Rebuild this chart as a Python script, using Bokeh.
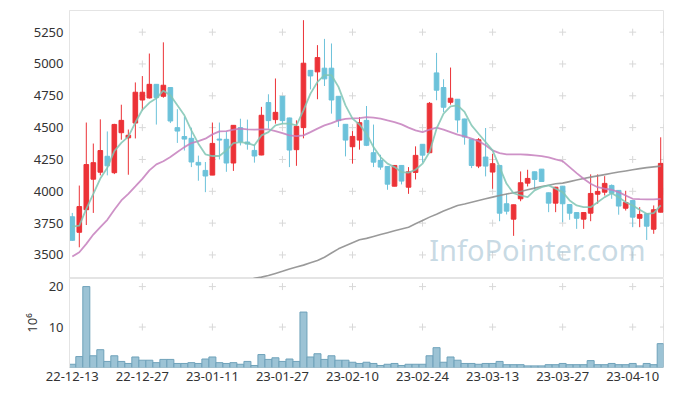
from bokeh.plotting import figure
from bokeh.layouts import column
from bokeh.models import ColumnDataSource, Range1d, FixedTicker, Label
from bokeh.embed import file_html
from bokeh.resources import INLINE

dates = ["22-12-13", "22-12-14", "22-12-15", "22-12-16", "22-12-19", "22-12-20", "22-12-21", "22-12-22",
         "22-12-23", "22-12-26", "22-12-27", "22-12-28", "22-12-29",
         "23-01-02", "23-01-03", "23-01-04", "23-01-05", "23-01-06", "23-01-09", "23-01-10", "23-01-11",
         "23-01-12", "23-01-13", "23-01-16", "23-01-17", "23-01-18", "23-01-19", "23-01-20", "23-01-25",
         "23-01-26", "23-01-27", "23-01-30", "23-01-31",
         "23-02-01", "23-02-02", "23-02-03", "23-02-06", "23-02-07", "23-02-08", "23-02-09", "23-02-10",
         "23-02-13", "23-02-14", "23-02-15", "23-02-16", "23-02-17", "23-02-20", "23-02-21", "23-02-22",
         "23-02-23", "23-02-24", "23-02-27", "23-02-28",
         "23-03-02", "23-03-03", "23-03-06", "23-03-07", "23-03-08", "23-03-09", "23-03-10", "23-03-13",
         "23-03-14", "23-03-15", "23-03-16", "23-03-17", "23-03-20", "23-03-21", "23-03-22", "23-03-23",
         "23-03-24", "23-03-27", "23-03-28", "23-03-29", "23-03-30", "23-03-31",
         "23-04-03", "23-04-04", "23-04-05", "23-04-06", "23-04-07", "23-04-10", "23-04-11", "23-04-12",
         "23-04-13", "23-04-14"]

opens = [3800, 3678, 3855, 4095, 4150, 4275, 4146, 4460, 4420, 4536, 4717, 4733, 4840, 4746,
         4815, 4500, 4430, 4416, 4227, 4164, 4127, 4410, 4408, 4222, 4500, 4387, 4321, 4285,
         4697, 4563, 4746, 4576, 4327, 4500, 4950, 4938, 4967, 4967, 4746, 4526, 4350, 4402,
         4557, 4303, 4243, 4195, 4040, 4203, 4032, 4148, 4369, 4303, 4930, 4815, 4699, 4723,
         4568, 4408, 4198, 4269, 4151, 4203, 3902, 3781, 3941, 4064, 4153, 4174, 3988, 3907,
         4040, 3896, 3833, 3781, 3828, 3977, 3993, 4046, 4007, 3867, 3928, 3788, 3823, 3702, 3836]
closes = [3615, 3880, 4210, 4225, 4320, 4200, 4525, 4557, 4440, 4778, 4778, 4840, 4736, 4833,
          4552, 4473, 4410, 4230, 4206, 4120, 4376, 4402, 4222, 4518, 4390, 4371, 4277, 4597,
          4555, 4620, 4555, 4324, 4510, 5006, 4906, 5050, 4883, 4717, 4555, 4402, 4431, 4539,
          4361, 4229, 4190, 4056, 4203, 4080, 4153, 4282, 4284, 4691, 4794, 4660, 4731, 4560,
          4426, 4203, 4405, 4198, 4217, 3828, 3844, 3894, 4067, 4101, 4093, 4077, 3907, 4032,
          3902, 3828, 3788, 3833, 3983, 3999, 4062, 3985, 3884, 3912, 3797, 3818, 3726, 3855, 4219]
highs = [3830, 4045, 4540, 4375, 4565, 4470, 4530, 4680, 4485, 4855, 4905, 5082, 4841, 5170,
         4818, 4645, 4583, 4500, 4280, 4230, 4540, 4540, 4470, 4520, 4570, 4563, 4366, 4663,
         4762, 4886, 4748, 4578, 4557, 5344, 4951, 5148, 5197, 5161, 4747, 4527, 4473, 4583,
         4670, 4524, 4287, 4196, 4205, 4205, 4190, 4353, 4370, 4701, 5087, 4880, 4972, 4725,
         4570, 4410, 4418, 4497, 4295, 4205, 3980, 3895, 4156, 4169, 4155, 4175, 3990, 4035,
         4042, 3898, 3835, 3835, 4133, 4133, 4119, 4054, 4010, 4004, 3930, 3875, 3825, 3889, 4424]
lows = [3610, 3560, 3735, 3830, 4125, 4125, 4135, 4405, 4130, 4415, 4635, 4728, 4524, 4735,
        4536, 4380, 4320, 4190, 4083, 3993, 4127, 4250, 4153, 4160, 4360, 4327, 4225, 4283,
        4492, 4531, 4531, 4190, 4200, 4416, 4800, 4723, 4827, 4610, 4505, 4274, 4217, 4327,
        4355, 4190, 4169, 4012, 4040, 4054, 3980, 4093, 4229, 4300, 4715, 4623, 4681, 4461,
        4366, 4182, 4182, 4117, 4020, 3765, 3818, 3650, 3922, 4038, 4014, 4075, 3836, 3836,
        3757, 3776, 3705, 3705, 3765, 3902, 3967, 3941, 3816, 3849, 3718, 3718, 3618, 3666, 3834]
volume_m = [0.8, 2.7, 20.0, 2.9, 4.4, 1.5, 2.9, 1.5, 1.0, 2.6,
            1.8, 1.8, 1.2, 2.0, 2.0, 1.0, 1.0, 1.2, 1.0, 2.1,
            2.6, 1.2, 1.0, 1.2, 0.8, 1.5, 0.5, 3.2, 2.0, 2.4,
            1.5, 2.1, 1.5, 13.7, 2.6, 3.4, 2.0, 2.9, 1.8, 1.8,
            1.3, 1.0, 1.3, 1.0, 0.5, 0.8, 1.0, 0.5, 0.8, 0.8,
            0.8, 2.9, 4.9, 1.3, 2.6, 1.8, 1.0, 1.0, 0.8, 1.0,
            1.0, 1.5, 0.7, 0.7, 0.7, 0.4, 0.4, 0.4, 0.7, 0.7,
            1.0, 0.7, 0.7, 0.7, 1.7, 0.7, 0.7, 1.0, 0.7, 0.7,
            1.0, 0.4, 1.0, 0.7, 5.9]
ma5 = [3723, 3731, 3862, 3980, 4100, 4185, 4315, 4380, 4430, 4540, 4640, 4695, 4730, 4790,
       4754, 4675, 4597, 4479, 4374, 4290, 4277, 4277, 4321, 4379, 4387, 4379, 4361, 4439,
       4465, 4518, 4531, 4531, 4518, 4636, 4767, 4859, 4912, 4912, 4820, 4675, 4571, 4525,
       4452, 4347, 4269, 4217, 4190, 4151, 4146, 4169, 4217, 4308, 4492, 4610, 4667, 4675,
       4623, 4518, 4452, 4387, 4321, 4190, 4059, 3985, 3967, 3954, 4007, 4032, 4046, 4020,
       3993, 3928, 3889, 3875, 3875, 3914, 3954, 3985, 3954, 3914, 3889, 3855, 3823, 3828, 3889]
ma20 = [3487, 3521, 3587, 3660, 3718, 3776, 3855, 3928, 3980, 4038, 4098, 4164, 4211, 4236,
        4269, 4308, 4347, 4379, 4394, 4413, 4447, 4471, 4473, 4484, 4492, 4487, 4484, 4487,
        4487, 4473, 4457, 4439, 4434, 4439, 4465, 4492, 4518, 4536, 4557, 4568, 4573, 4575,
        4583, 4578, 4571, 4557, 4544, 4526, 4500, 4479, 4465, 4484, 4500, 4484, 4465, 4445,
        4431, 4413, 4394, 4361, 4321, 4300, 4290, 4290, 4290, 4287, 4282, 4277, 4266, 4250,
        4237, 4190, 4143, 4098, 4059, 4032, 4020, 4012, 3993, 3967, 3941, 3938, 3936, 3936, 3941]
nan = float("nan")
ma120 = [nan] * 25 + [3300, 3316, 3326, 3338, 3355, 3372, 3390, 3405, 3420, 3438, 3456, 3482, 3515,
                      3548, 3572, 3596, 3619, 3630, 3645, 3660, 3675, 3690, 3704, 3718, 3745, 3771,
                      3797, 3820, 3845, 3866, 3889, 3900, 3914, 3928, 3941, 3954, 3967, 3978, 3989,
                      3999, 4012, 4025, 4038, 4048, 4059, 4064, 4076, 4088, 4100, 4111, 4121, 4131,
                      4141, 4151, 4160, 4169, 4178, 4186, 4192, 4198]
price_ticks = [3500, 3750, 4000, 4250, 4500, 4750, 5000, 5250]
volume_ticks = [10, 20]
date_ticks = [0, 10, 20, 30, 40, 50, 60, 70, 80]

RED = "#ec3237"
BLUE = "#6cc2da"
FONT = "Noto Sans"
GRID = "#d8d8d8"
EDGE = "#e4e4e4"

idx = list(range(len(dates)))
cols = [RED if c >= o else BLUE for o, c in zip(opens, closes)]
src = ColumnDataSource(dict(
    x=idx, high=highs, low=lows,
    top=[max(o, c) for o, c in zip(opens, closes)],
    bottom=[min(o, c) for o, c in zip(opens, closes)],
    color=cols, vol=volume_m, ma5=ma5, ma20=ma20, ma120=ma120))

X0, X1 = -0.4, 84.4
xr = Range1d(X0, X1)

p = figure(width=665, height=278, x_range=xr, y_range=Range1d(3315, 5420),
           output_backend="svg", toolbar_location=None, x_axis_location=None,
           min_border_left=69, min_border_right=2, min_border_top=10, min_border_bottom=0)
p.outline_line_color = EDGE
p.xgrid.grid_line_color = None
p.ygrid.grid_line_color = None

# grid crosses
gx = [t for t in date_ticks if t > 0] + [X1]
cx = [a for a in gx for b in price_ticks]
cy = [b for a in gx for b in price_ticks]
p.scatter(cx, cy, marker="cross", size=7, line_color=GRID, line_width=1)

p.segment(x0="x", y0="high", x1="x", y1="low", line_color="color", line_width=1, source=src)
p.vbar(x="x", width=0.66, top="top", bottom="bottom", fill_color="color",
       line_color="color", line_width=1, source=src)

p.line("x", "ma120", source=src, line_color="#8f8f8f", line_width=1.6, line_alpha=0.9)
p.line("x", "ma20", source=src, line_color="#c57fbd", line_width=1.8, line_alpha=0.85)
p.line("x", "ma5", source=src, line_color="#80c6b4", line_width=1.8, line_alpha=0.85)

wm = Label(x=66.4, y=3545, text="InfoPointer.com", text_align="center",
           text_baseline="middle", text_font_size="29px", text_font=FONT,
           text_color="#a3c1d2", text_alpha=0.6)
p.add_layout(wm)

ya = p.yaxis[0]
ya.ticker = FixedTicker(ticks=price_ticks)
ya.major_tick_line_color = None
ya.minor_tick_line_color = None
ya.major_tick_out = 0
ya.major_tick_in = 0
ya.axis_line_color = EDGE
ya.major_label_standoff = 6
ya.major_label_text_font = FONT
ya.major_label_text_font_size = "13px"
ya.major_label_text_color = "#333333"

q = figure(width=665, height=111, x_range=xr, y_range=Range1d(0, 22),
           output_backend="svg", toolbar_location=None,
           min_border_left=69, min_border_right=2, min_border_top=0, min_border_bottom=22)
q.outline_line_color = EDGE
q.xgrid.grid_line_color = None
q.ygrid.grid_line_color = None
vx = [a for a in gx for b in volume_ticks]
vy = [b for a in gx for b in volume_ticks]
q.scatter(vx, vy, marker="cross", size=7, line_color=GRID, line_width=1)
q.vbar(x="x", width=1.0, top="vol", bottom=0, fill_color="#9cc3d5",
       line_color="#6fa2ba", line_width=1, source=src)

qy = q.yaxis[0]
qy.ticker = FixedTicker(ticks=volume_ticks)
qy.major_tick_line_color = None
qy.minor_tick_line_color = None
qy.major_tick_out = 0
qy.major_tick_in = 0
qy.axis_line_color = EDGE
qy.major_label_standoff = 6
qy.major_label_text_font = FONT
qy.major_label_text_font_size = "13px"
qy.major_label_text_color = "#333333"
qy.axis_label = "10\u2076"
qy.axis_label_text_font = FONT
qy.axis_label_text_font_size = "13px"
qy.axis_label_text_font_style = "normal"
qy.axis_label_text_color = "#333333"
qy.axis_label_standoff = 5

qx = q.xaxis[0]
qx.ticker = FixedTicker(ticks=date_ticks)
qx.major_label_overrides = {t: dates[t] for t in date_ticks}
qx.major_tick_line_color = None
qx.minor_tick_line_color = None
qx.major_tick_out = 0
qx.major_tick_in = 0
qx.axis_line_color = None
qx.major_label_standoff = 4
qx.major_label_text_font = FONT
qx.major_label_text_font_size = "13px"
qx.major_label_text_color = "#333333"

layout = column(p, q)
open("out.html", "w").write(file_html(layout, INLINE))
